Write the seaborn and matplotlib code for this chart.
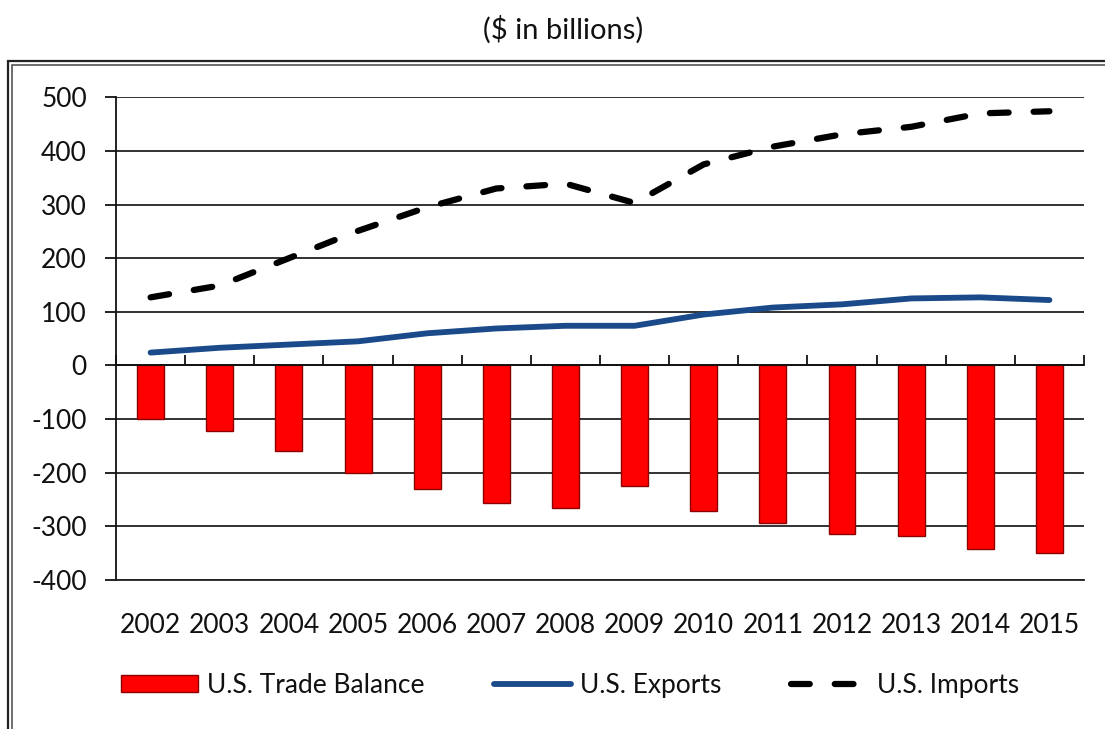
import numpy as np
import pandas as pd
import matplotlib.pyplot as plt
import seaborn as sns
from matplotlib.patches import Rectangle

years = ["2002", "2003", "2004", "2005", "2006", "2007", "2008",
         "2009", "2010", "2011", "2012", "2013", "2014", "2015"]
trade_balance = [-100, -122, -159, -200, -231, -256, -266,
                 -225, -272, -294, -314, -318, -342, -350]
exports = [24, 33, 39, 45, 60, 69, 74, 74, 95, 108, 114, 125, 127, 122]
imports = [127, 149, 200, 251, 295, 330, 339, 303, 375, 408, 431, 445, 470, 474]

df = pd.DataFrame({"year": years, "balance": trade_balance,
                   "exports": exports, "imports": imports})
df["pos"] = np.arange(len(df))

sns.set_style("white")
plt.rcParams["font.family"] = ["Lato", "DejaVu Sans"]
plt.rcParams["axes.unicode_minus"] = False

fig = plt.figure(figsize=(11.05, 7.29), dpi=100)
ax = fig.add_axes([0.105, 0.2044, 0.876, 0.6621])

# outer frame (double line), only top and left visible
fig.patches.append(Rectangle((8 / 1105, -0.2), 1.2, 1.2 - 61 / 729,
                             transform=fig.transFigure, fill=False,
                             edgecolor="#222222", lw=1.6))
fig.patches.append(Rectangle((12 / 1105, -0.2), 1.2, 1.2 - 65 / 729,
                             transform=fig.transFigure, fill=False,
                             edgecolor="#555555", lw=1.2))

sns.barplot(data=df, x="year", y="balance", color="#FF0000", width=0.39,
            edgecolor="#8B0000", linewidth=1.0, saturation=1,
            label="U.S. Trade Balance", ax=ax, zorder=3)
sns.lineplot(data=df, x="pos", y="exports", color="#1B4A8A", lw=4.2,
             label="U.S. Exports", ax=ax, zorder=4)
sns.lineplot(data=df, x="pos", y="imports", color="black", lw=4.5,
             label="U.S. Imports", ax=ax, zorder=4)
ax.lines[-1].set_dashes((3, 4))
ax.lines[-1].set_dash_capstyle("round")

ax.set_xlim(-0.5, len(years) - 0.5)
ax.set_ylim(-400, 500)
ax.set_yticks(range(-400, 501, 100))
ax.set_xticks(df["pos"])
ax.set_xticklabels(years)
ax.set_xlabel("")
ax.set_ylabel("")

ax.yaxis.grid(True, color="#222222", lw=1.3, zorder=0)
ax.xaxis.grid(False)
ax.set_axisbelow(True)
for s in ["top", "right"]:
    ax.spines[s].set_visible(False)
ax.spines["left"].set_color("#111111")
ax.spines["left"].set_linewidth(1.3)
ax.spines["bottom"].set_color("#222222")
ax.spines["bottom"].set_linewidth(1.3)

ax.tick_params(axis="y", left=True, length=8, width=1.3, color="#111111",
               labelsize=19, pad=13, labelcolor="#111111")
ax.tick_params(axis="x", bottom=False, labelsize=19, pad=20,
               labelcolor="#111111")

# category axis line at zero with tick marks between categories
zero_frac = (0 - (-400)) / (500 - (-400))
sec = ax.secondary_xaxis(zero_frac)
sec.set_xticks(np.arange(len(years) + 1) - 0.5)
sec.tick_params(direction="in", length=7, width=1.3, color="#111111",
                labelbottom=False, labeltop=False)
sec.spines["bottom"].set_color("#111111")
sec.spines["bottom"].set_linewidth(1.3)
sec.set_zorder(5)

handles, labels = ax.get_legend_handles_labels()
if ax.get_legend():
    ax.get_legend().remove()
order = ["U.S. Trade Balance", "U.S. Exports", "U.S. Imports"]
lookup = dict(zip(labels, handles))
fig.legend([lookup[k] for k in order], order, loc="center",
           bbox_to_anchor=(0.516, 0.06), ncol=3, frameon=False, fontsize=19,
           handlelength=2.9, handleheight=0.65, handletextpad=0.35,
           columnspacing=2.65, labelcolor="#111111")

fig.text(0.51, 0.959, "($ in billions)", ha="center", va="center",
         fontsize=21, color="#111111")

fig.savefig("out.png", dpi=100)
